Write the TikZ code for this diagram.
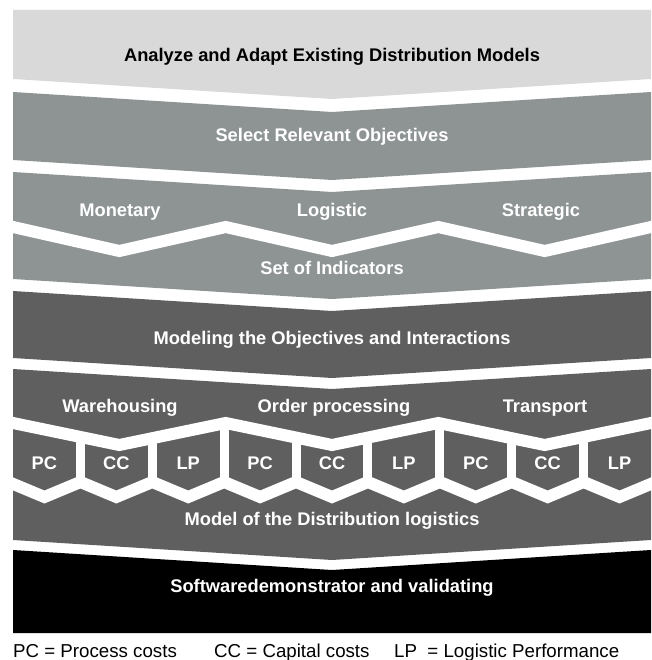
\documentclass[tikz,border=0pt]{standalone}
\usepackage{fontspec}
\setmainfont{Liberation Sans}
\definecolor{bandlight}{HTML}{D9D9D9}
\definecolor{bandmid}{HTML}{8E9494}
\definecolor{banddark}{HTML}{5F5F5F}
\tikzset{
  lbl/.style={font=\fontsize{18.3}{20}\selectfont\bfseries,text=white,inner sep=0pt},
  legend/.style={font=\fontsize{18.7}{20}\selectfont,anchor=base west,inner sep=0pt},
  gapline/.style={draw=white,line width=12pt,line join=miter},
}
\begin{document}
\begin{tikzpicture}[x=1pt,y=-1pt]
\pgfmathsetmacro{\kl}{13}
\pgfmathsetmacro{\kr}{651}
\pgfmathsetmacro{\km}{332}
\pgfmathsetmacro{\kd}{20}
\pgfmathsetmacro{\kw}{(\kr-\kl)/6}
\pgfmathsetmacro{\kp}{(\kr-\kl+9)/9}
\pgfmathsetmacro{\kbw}{\kp-9}
\useasboundingbox (0,0) rectangle (651,660);
\fill[bandlight] (\kl,10)--(\kr,10)--(\kr,79)--(\km,79+\kd)--(\kl,79)--cycle;
\foreach \ktop/\kbot/\kcol in {92/160/bandmid,172/279/bandmid,291/358/banddark,369/540/banddark}{
  \fill[\kcol] (\kl,\ktop)--(\km,\ktop+\kd)--(\kr,\ktop)--(\kr,\kbot)--(\km,\kbot+\kd)--(\kl,\kbot)--cycle;}
\fill[black] (\kl,550)--(\km,550+\kd)--(\kr,550)--(\kr,633)--(\kl,633)--cycle;
% objectives zigzag
\draw[gapline] (0,224) \foreach \ki in {0,...,6}{--({\kl+\ki*\kw},{227+24*mod(\ki,2)})} --(660,225);
% processes zigzag
\draw[gapline] (0,420) \foreach \ki in {0,...,6}{--({\kl+\ki*\kw},{423+22*mod(\ki,2)})} --(660,421);
\foreach \ki in {1,...,8}{
  \pgfmathsetmacro{\kgx}{\kl+\ki*\kp-4.5}
  \pgfmathsetmacro{\kgy}{423+22*(1-abs(mod((\kgx-\kl)/\kw,2)-1))}
  \draw[white,line width=9pt] (\kgx,\kgy)--(\kgx,482);}
\draw[gapline] ({\kl-4.5},482) \foreach \ki in {0,...,8}{--({\kl+\ki*\kp+\kbw/2},497)--({\kl+(\ki+1)*\kp-4.5},482)};
\node[lbl,text=black] (analyze) at (\km,57) {Analyze and Adapt Existing Distribution Models};
\node[lbl] (select) at (\km,137) {Select Relevant Objectives};
\foreach \kx/\kn/\klb in {120/monetary/Monetary,332/logistic/Logistic,541/strategic/Strategic}{\node[lbl] (\kn) at (\kx,212) {\klb};}
\node[lbl] (indicators) at (\km,268) {Set of Indicators};
\node[lbl] (modeling) at (\km,340) {Modeling the Objectives and Interactions};
\foreach \kx/\kn/\klb in {120/warehousing/Warehousing,334/orderproc/Order processing,545/transport/Transport}{\node[lbl] (\kn) at (\kx,408) {\klb};}
\foreach \ki/\klb in {0/PC,1/CC,2/LP,3/PC,4/CC,5/LP,6/PC,7/CC,8/LP}{\node[lbl] (box\ki) at ({\kl+\ki*\kp+\kbw/2},463) {\klb};}
\node[lbl] (model) at (\km,521) {Model of the Distribution logistics};
\node[lbl] (software) at (\km,588) {Softwaredemonstrator and validating};
\node[legend] (legpc) at (13,657) {PC = Process costs};
\node[legend] (legcc) at (214,657) {CC = Capital costs};
\node[legend] (leglp) at (394,657) {LP\ \ = Logistic Performance};
\end{tikzpicture}
\end{document}
